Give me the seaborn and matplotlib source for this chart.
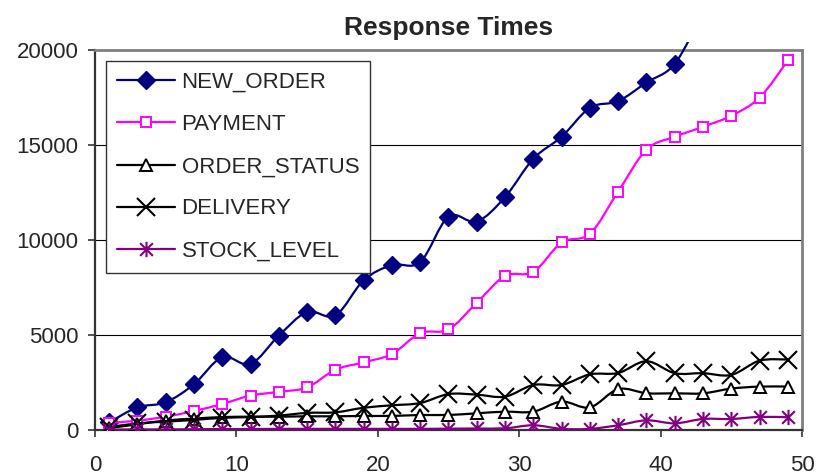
import numpy as np
import pandas as pd
import seaborn as sns
import matplotlib
matplotlib.use("Agg")
import matplotlib.pyplot as plt
from matplotlib.path import Path
from matplotlib.patches import PathPatch, Rectangle
from matplotlib.lines import Line2D

# ---- data -------------------------------------------------------------
runs = [1, 3, 5, 7, 9, 11, 13, 15, 17, 19, 21, 23, 25,
        27, 29, 31, 33, 35, 37, 39, 41, 43, 45, 47, 49]

new_order = [400, 1190, 1460, 2410, 3830, 3475, 4970, 6210, 6030, 7880, 8680,
             8840, 11230, 10970, 12260, 14280, 15430, 16960, 17310, 18290,
             19270, 22000]
payment = [380, 490, 700, 1000, 1370, 1810, 2010, 2240, 3175, 3560, 4000, 5100,
           5290, 6700, 8110, 8320, 9870, 10330, 12550, 14760, 15430, 15960,
           16540, 17490, 19450]
order_status = [100, 300, 500, 600, 680, 700, 700, 720, 720, 740, 740, 790,
                790, 880, 965, 965, 1495, 1190, 2150, 1935, 1930, 1930, 2180,
                2285, 2285]
delivery = [150, 350, 440, 530, 640, 680, 760, 900, 930, 1170, 1300, 1420,
            1890, 1860, 1755, 2370, 2370, 2930, 3000, 3620, 2990, 2990, 2900,
            3650, 3710]
stock_level = [20, 30, 30, 40, 50, 50, 60, 60, 60, 60, 60, 60, 70, 80, 90,
               250, 60, 60, 250, 510, 350, 580, 580, 690, 670]

series_names = ["NEW_ORDER", "PAYMENT", "ORDER_STATUS", "DELIVERY", "STOCK_LEVEL"]
series_values = [new_order, payment, order_status, delivery, stock_level]

x_ticks = [0, 10, 20, 30, 40, 50]
y_ticks = [0, 5000, 10000, 15000, 20000]

# ---- styling ------------------------------------------------------------
sns.set_style("white")
plt.rcParams["font.family"] = ["Liberation Sans", "DejaVu Sans"]

# six-armed star: an X with a vertical bar
star = Path([(-1, -1), (1, 1), (-1, 1), (1, -1), (0, -1.2), (0, 1.2)],
            [Path.MOVETO, Path.LINETO] * 3)

styles = {
    "NEW_ORDER":    dict(color="#000080", marker="D", ms=9, mfc="#000080", mew=1.0),
    "PAYMENT":      dict(color="#FF00FF", marker="s", ms=7.5, mfc="white", mew=1.4),
    "ORDER_STATUS": dict(color="#000000", marker="^", ms=8.5, mfc="white", mew=1.4),
    "DELIVERY":     dict(color="#000000", marker="x", ms=13, mfc="none", mew=1.5),
    "STOCK_LEVEL":  dict(color="#800080", marker=star, ms=11, mfc="none", mew=1.5),
}

records = []
for name, vals in zip(series_names, series_values):
    for xv, yv in zip(runs[:len(vals)], vals):
        records.append({"run": xv, "ms": yv, "series": name})
df = pd.DataFrame(records)


def smooth_path(xs, ys):
    """Cubic Bezier path through the points (Catmull-Rom style tangents)."""
    pts = np.column_stack([xs, ys]).astype(float)
    verts = [pts[0]]
    codes = [Path.MOVETO]
    n = len(pts)
    for i in range(n - 1):
        p0 = pts[i - 1] if i > 0 else pts[i]
        p1 = pts[i]
        p2 = pts[i + 1]
        p3 = pts[i + 2] if i + 2 < n else pts[i + 1]
        verts += [p1 + (p2 - p0) / 6.0, p2 - (p3 - p1) / 6.0, p2]
        codes += [Path.CURVE4] * 3
    return Path(verts, codes)


fig = plt.figure(figsize=(8.2, 4.75), dpi=100)
ax = fig.add_axes([95 / 820, 45 / 475, 707 / 820, 380 / 475])

for z, name in enumerate(series_names):
    st = styles[name]
    sub = df[df["series"] == name]
    # smoothed connecting line
    patch = PathPatch(smooth_path(sub["run"].values, sub["ms"].values),
                      facecolor="none", edgecolor=st["color"], lw=1.6,
                      transform=ax.transData, zorder=3 + 2 * z)
    ax.add_patch(patch)
    if name == "NEW_ORDER":
        clip = Rectangle((0, 0), 1, 1 + 8 / 380, transform=ax.transAxes)
        patch.set_clip_path(clip)
    # point markers
    sns.lineplot(data=sub, x="run", y="ms", ax=ax, linewidth=0,
                 marker=st["marker"], markersize=st["ms"],
                 markerfacecolor=st["mfc"], markeredgecolor=st["color"],
                 markeredgewidth=st["mew"], color=st["color"],
                 legend=False, zorder=4 + 2 * z)

ax.set_xlim(0, 50)
ax.set_ylim(0, 20000)
ax.set_xticks(x_ticks)
ax.set_yticks(y_ticks)
ax.set_xlabel("")
ax.set_ylabel("")

ax.yaxis.grid(True, color="black", linewidth=0.8)
ax.xaxis.grid(False)
ax.set_axisbelow(True)

for side in ("top", "right"):
    ax.spines[side].set_color("#808080")
    ax.spines[side].set_linewidth(2)
ax.spines["left"].set_color("#333333")
ax.spines["left"].set_linewidth(1.6)
ax.spines["bottom"].set_color("#333333")
ax.spines["bottom"].set_linewidth(1.6)

ax.tick_params(axis="y", left=True, direction="out", length=5, width=1.2,
               color="#333333", pad=7, labelsize=16)
ax.tick_params(axis="x", bottom=True, direction="out", length=5, width=1.2,
               color="#333333", pad=13, labelsize=16)

ax.set_title("Response Times", fontsize=19, fontweight="bold", pad=11)

handles = [Line2D([], [], color=styles[n]["color"], lw=1.6,
                  marker=styles[n]["marker"], markersize=styles[n]["ms"],
                  markerfacecolor=styles[n]["mfc"],
                  markeredgecolor=styles[n]["color"],
                  markeredgewidth=styles[n]["mew"]) for n in series_names]
leg = fig.legend(handles, series_names, loc="upper left",
                 bbox_to_anchor=(106 / 820, 1 - 61 / 475),
                 bbox_transform=fig.transFigure, borderaxespad=0,
                 fontsize=16, frameon=True, fancybox=False, framealpha=1,
                 edgecolor="#333333", handlelength=2.6, handletextpad=0.3,
                 labelspacing=0.95, borderpad=0.5)
leg.get_frame().set_linewidth(1.0)
leg.set_zorder(20)

fig.savefig("out.png", dpi=100)
